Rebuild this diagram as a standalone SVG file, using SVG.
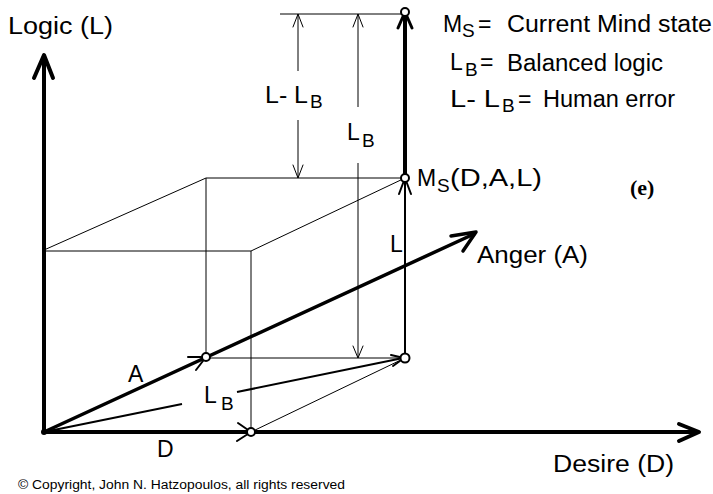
<svg xmlns="http://www.w3.org/2000/svg" width="713" height="494" viewBox="0 0 713 494">
<style>
text{font-family:"Liberation Sans",Arial,sans-serif;fill:#000}
.lbl{font-size:23px}
.sub{font-size:19px}
.thin{stroke:#000;stroke-width:1;fill:none}
.mid{stroke:#000;stroke-width:2;fill:none}
.thick{stroke:#000;stroke-width:4;fill:none}
.ah{stroke:#000;fill:none;stroke-linecap:round;stroke-linejoin:round}
.pt{stroke:#000;stroke-width:2;fill:#fff}
.serif{font-family:"Liberation Serif","Times New Roman",serif;font-weight:bold;font-size:22px}
</style>
<rect width="713" height="494" fill="#fff"/>
<g id="connectors">
  <line class="thin" x1="44" y1="251" x2="251" y2="251"/>
  <line class="thin" x1="44" y1="250" x2="206" y2="178"/>
  <line class="thin" x1="206" y1="178" x2="405" y2="178"/>
  <line class="thin" x1="206" y1="178" x2="206" y2="358"/>
  <line class="thin" x1="251" y1="251" x2="405" y2="178"/>
  <line class="thin" x1="251" y1="251" x2="251" y2="432"/>
  <line class="thin" x1="206" y1="358" x2="405" y2="358"/>
  <line class="thin" x1="251" y1="432" x2="405" y2="358"/>
  <line class="thin" x1="280" y1="14" x2="405" y2="14"/>
  <line class="thin" x1="298" y1="14" x2="298" y2="71"/>
  <line class="thin" x1="298" y1="120" x2="298" y2="178"/>
  <polyline class="ah" stroke-width="1" points="293,27 298,14 303,27"/>
  <polyline class="ah" stroke-width="1" points="293,165 298,178 303,165"/>
  <line class="thin" x1="358" y1="14" x2="358" y2="107"/>
  <line class="thin" x1="358" y1="163" x2="358" y2="358"/>
  <polyline class="ah" stroke-width="1" points="353,27 358,14 363,27"/>
  <polyline class="ah" stroke-width="1" points="353,346 358,358 363,346"/>
  <line class="mid" x1="44" y1="432" x2="182" y2="404"/>
  <line class="mid" x1="237" y1="392" x2="403" y2="358"/>
  <polyline class="ah" stroke-width="2" points="391,355 404,358 393,366"/>
  <line class="mid" x1="405" y1="358" x2="405" y2="180"/>
  <polyline class="ah" stroke-width="2" points="399,194 405,178 411,194"/>
  <line class="thick" x1="405" y1="176" x2="405" y2="14"/>
  <polyline class="ah" stroke-width="3" points="398,28 405,12 412,28"/>
  <line class="thick" x1="44" y1="432" x2="44" y2="57"/>
  <polyline class="ah" stroke-width="4" points="34,78 44,55 53,78"/>
  <line class="thick" x1="44" y1="432" x2="698" y2="432"/>
  <polyline class="ah" stroke-width="4" points="679,424 699,432 679,441"/>
  <line class="ah" stroke-width="3.5" x1="44" y1="432" x2="474" y2="234"/>
  <polyline class="ah" stroke-width="3.5" points="451,236 476,232 463,251"/>
  <polyline class="ah" stroke-width="2" points="188,357 206,357 196,370"/>
  <polyline class="ah" stroke-width="2" points="238,423 251,432 237,441"/>
</g>
<g id="points">
  <circle class="pt" cx="206" cy="357" r="4"/>
  <circle class="pt" cx="251" cy="432" r="4"/>
  <circle class="pt" cx="405" cy="358" r="4.5"/>
  <circle class="pt" cx="405" cy="178" r="4"/>
  <circle class="pt" cx="405" cy="12" r="4"/>
  <circle cx="44" cy="432" r="3" fill="#000"/>
</g>
<g id="axis-labels">
  <text class="lbl" x="8" y="34" textLength="105" lengthAdjust="spacingAndGlyphs">Logic (L)</text>
  <text class="lbl" x="553" y="472" textLength="121" lengthAdjust="spacingAndGlyphs">Desire (D)</text>
  <text class="lbl" x="477" y="263" textLength="111" lengthAdjust="spacingAndGlyphs">Anger (A)</text>
</g>
<g id="vector-labels">
  <text class="lbl" x="128" y="382">A</text>
  <text class="lbl" x="157" y="457">D</text>
  <text class="lbl" x="204" y="403">L</text>
  <text class="sub" x="221" y="410">B</text>
  <text class="lbl" x="390" y="252">L</text>
  <text class="lbl" x="265" y="103" textLength="43" lengthAdjust="spacingAndGlyphs">L- L</text>
  <text class="sub" x="310" y="108">B</text>
  <text class="lbl" x="347" y="140">L</text>
  <text class="sub" x="362" y="147">B</text>
  <text class="lbl" x="417" y="186">M</text>
  <text class="sub" x="437" y="192">S</text>
  <text class="lbl" x="450" y="186" textLength="92" lengthAdjust="spacingAndGlyphs">(D,A,L)</text>
  <text class="serif" x="630" y="195">(e)</text>
</g>
<g id="legend">
  <text class="lbl" x="443" y="32">M</text>
  <text class="sub" x="462" y="37">S</text>
  <text class="lbl" x="478" y="32">=</text>
  <text class="lbl" x="507" y="32" textLength="205" lengthAdjust="spacingAndGlyphs">Current  Mind  state</text>
  <text class="lbl" x="450" y="70">L</text>
  <text class="sub" x="465" y="76">B</text>
  <text class="lbl" x="480" y="70">=</text>
  <text class="lbl" x="507" y="71" textLength="156" lengthAdjust="spacingAndGlyphs">Balanced logic</text>
  <text class="lbl" x="450" y="107" textLength="50" lengthAdjust="spacingAndGlyphs">L- L</text>
  <text class="sub" x="502" y="112">B</text>
  <text class="lbl" x="518" y="107">=</text>
  <text class="lbl" x="543" y="107" textLength="132" lengthAdjust="spacingAndGlyphs">Human error</text>
</g>
<text x="18" y="489" style="font-size:12px" textLength="327" lengthAdjust="spacingAndGlyphs">© Copyright, John N. Hatzopoulos, all rights reserved</text>
</svg>
